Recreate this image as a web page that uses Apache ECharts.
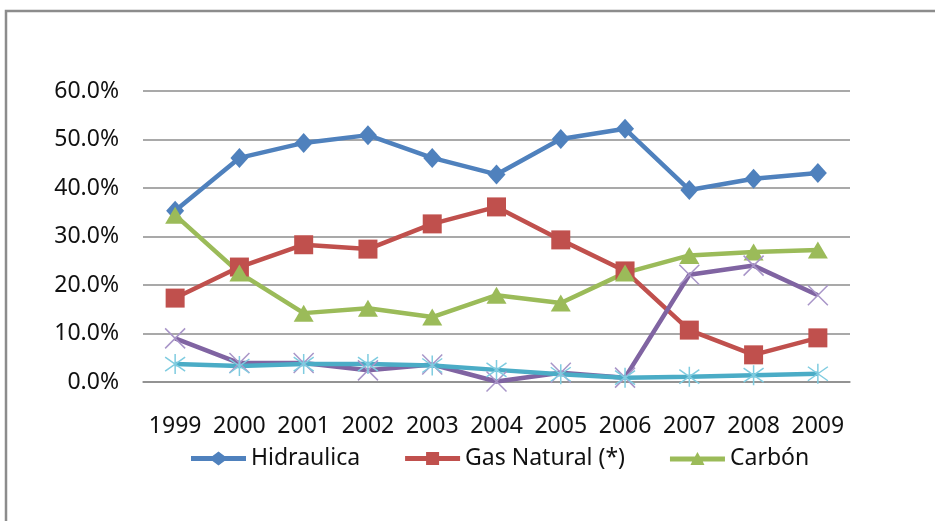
<!DOCTYPE html>
<html>
<head>
<meta charset="utf-8">
<script src="https://cdn.jsdelivr.net/npm/echarts@6/dist/echarts.min.js"></script>
<style>
  html, body { margin: 0; padding: 0; background: #fff; }
  #chart { width: 935px; height: 521px; }
</style>
</head>
<body>
<div id="chart"></div>
<script>
// datos (en %)
const years = ["1999", "2000", "2001", "2002", "2003", "2004", "2005", "2006", "2007", "2008", "2009"];
const hidraulica = [35.3, 46.2, 49.3, 50.9, 46.2, 42.8, 50.1, 52.2, 39.6, 41.9, 43.1];
const gasNatural = [17.3, 23.7, 28.3, 27.4, 32.6, 36.1, 29.3, 22.9, 10.7, 5.6, 9.1];
const carbon = [34.4, 22.5, 14.2, 15.2, 13.4, 17.9, 16.3, 22.5, 26.1, 26.8, 27.2];
const serie4 = [9.0, 3.9, 3.9, 2.4, 3.6, 0.1, 1.9, 0.9, 22.1, 24.0, 17.9];
const serie5 = [3.7, 3.3, 3.7, 3.7, 3.4, 2.5, 1.6, 0.9, 1.1, 1.4, 1.7];
const yTicks = { min: 0, max: 60, interval: 10 };

const font = "Noto Sans";
const textColor = "#111";

// iconos de leyenda: linea gruesa + marcador
const iconDiamond = "path://M0,4.5L21.5,4.5L27.5,0L33.5,4.5L55,4.5L55,9.5L33.5,9.5L27.5,14L21.5,9.5L0,9.5Z";
const iconSquare = "path://M0,4.5L21,4.5L21,0.5L34,0.5L34,4.5L55,4.5L55,9.5L34,9.5L34,13.5L21,13.5L21,9.5L0,9.5Z";
const iconTriangle = "path://M0,4.5L25,4.5L27.5,0L30,4.5L55,4.5L55,9.5L32.8,9.5L34.5,13L20.5,13L22.2,9.5L0,9.5Z";

let chart = echarts.init(document.getElementById("chart"));

let option = {
  animation: false,
  graphic: [{
    type: "rect",
    shape: { x: 6, y: 11, width: 1000, height: 1000 },
    style: { fill: "none", stroke: "#8c8c8c", lineWidth: 2.5 }
  }],
  grid: {
    left: 143,
    right: 85,
    top: 91,
    bottom: 139
  },
  legend: {
    left: 186,
    top: 442,
    itemWidth: 55,
    itemHeight: 14,
    itemGap: 45,
    textStyle: { fontFamily: font, fontSize: 23, color: textColor },
    data: [
      { name: "Hidraulica", icon: iconDiamond },
      { name: "Gas Natural (*)", icon: iconSquare },
      { name: "Carbón", icon: iconTriangle }
    ]
  },
  xAxis: {
    type: "category",
    data: years,
    boundaryGap: true,
    axisLine: { show: true, lineStyle: { color: "#8c8c8c", width: 1.5 } },
    axisTick: { show: false },
    axisLabel: {
      margin: 33,
      fontFamily: font,
      fontSize: 23,
      color: textColor,
      interval: 0
    }
  },
  yAxis: {
    type: "value",
    min: yTicks.min,
    max: yTicks.max,
    interval: yTicks.interval,
    axisLine: { show: false },
    axisTick: { show: false },
    splitLine: { lineStyle: { color: "#8c8c8c", width: 1.5 } },
    axisLabel: {
      margin: 24,
      fontFamily: font,
      fontSize: 23,
      color: textColor,
      formatter: function (v) { return v.toFixed(1) + "%"; }
    }
  },
  series: [{
    name: "Hidraulica",
    type: "line",
    data: hidraulica,
    symbol: "diamond",
    symbolSize: [18, 20],
    color: "#4F81BD",
    lineStyle: { width: 4.5, color: "#4F81BD" }
  }, {
    name: "Gas Natural (*)",
    type: "line",
    data: gasNatural,
    symbol: "rect",
    symbolSize: 19,
    color: "#C0504D",
    lineStyle: { width: 4.5, color: "#C0504D" }
  }, {
    name: "Carbón",
    type: "line",
    data: carbon,
    symbol: "triangle",
    symbolSize: [20, 17],
    color: "#9BBB59",
    lineStyle: { width: 4.5, color: "#9BBB59" }
  }, {
    name: "Serie 4",
    type: "line",
    data: serie4,
    symbol: "path://M0,0L10,10M10,0L0,10",
    symbolSize: 20,
    color: "#8064A2",
    lineStyle: { width: 4.5, color: "#8064A2" },
    itemStyle: { color: "none", borderColor: "#A895C8", borderWidth: 1.5 }
  }, {
    name: "Serie 5",
    type: "line",
    data: serie5,
    symbol: "path://M5,0L5,10M0,1.5L10,8.5M10,1.5L0,8.5",
    symbolSize: 20,
    color: "#4BACC6",
    lineStyle: { width: 4.5, color: "#4BACC6" },
    itemStyle: { color: "none", borderColor: "#7FCCE0", borderWidth: 1.5 }
  }]
};

chart.setOption(option, true);
</script>
</body>
</html>
